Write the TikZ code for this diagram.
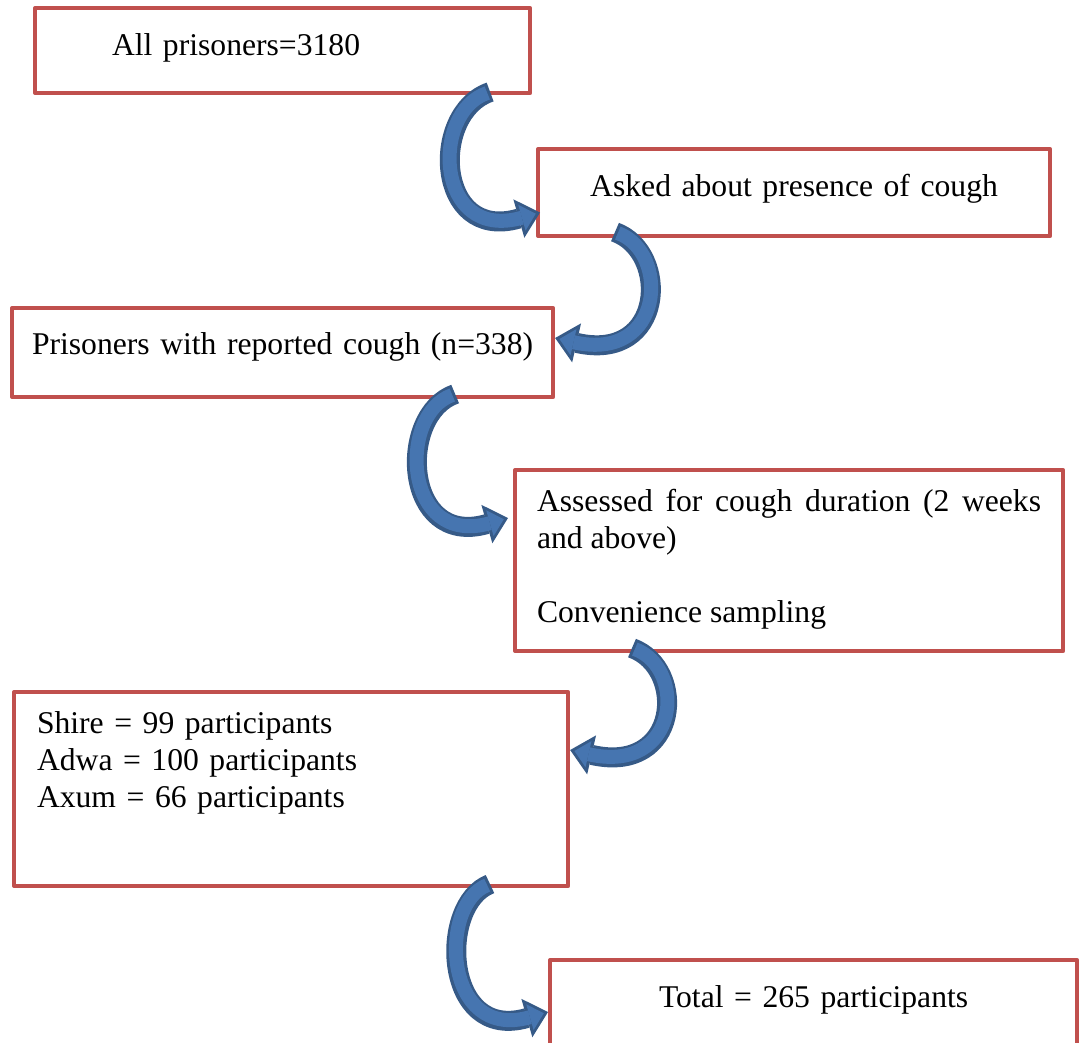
\documentclass[tikz,border=0pt]{standalone}
\usepackage{fontspec}
\setmainfont{Liberation Serif}
\usetikzlibrary{arrows.meta,calc}
\definecolor{boxred}{RGB}{192,80,77}
\definecolor{arrowblue}{RGB}{70,117,176}
\definecolor{arrowdark}{RGB}{54,90,135}
\tikzset{
	flowbox/.style={draw=boxred, line width=0.1cm, rectangle, anchor=north west, outer sep=0pt, inner ysep=0pt, align=left},
	bendarrow/.style={draw=arrowdark, line width=0.5cm, -{Triangle[length=0.55cm, width=1.0cm, line width=0pt]},
		postaction={draw=arrowblue, line width=0.35cm, shorten <=0.075cm, shorten >=0.11cm, -{Triangle[length=0.36cm, width=0.67cm, line width=0pt]}}}
}
\begin{document}
\begin{tikzpicture}[x=0.025cm, y=-0.025cm, font=\fontsize{22.5}{26.5}\selectfont, line join=round]
			\useasboundingbox (0,0) rectangle (1084,1042);
			%%%%%%%%%%%%%%%%%%%%%%%%%%%%%%%%%
			\node[flowbox, inner xsep=1.925cm, text width=8.525cm, text height=1.175cm, text depth=0.95cm] (b1) at (35,8) {All prisoners=3180};
			\node[flowbox, align=center, inner xsep=0.5cm, text width=11.8cm, text height=1.175cm, text depth=1.0cm] (b2) at (538,149) {Asked about presence of cough};
			\node[flowbox, inner xsep=0.5cm, text width=12.525cm, text height=1.15cm, text depth=1.075cm] (b3) at (12,308) {\mbox{Prisoners with reported cough (n=338)}};
			\node[flowbox, align=justify, inner xsep=0.55cm, text width=12.6cm, text height=1.025cm, text depth=3.5cm] (b4) at (515,470) {Assessed for cough duration (2 weeks\linebreak and above)\\[26.5pt]Convenience sampling};
			\node[flowbox, inner xsep=0.575cm, text width=12.7cm, text height=1.025cm, text depth=3.825cm] (b5) at (14,692) {Shire = 99 participants\\Adwa = 100 participants\\Axum = 66 participants};
			\node[flowbox, align=center, inner xsep=0.5cm, text width=12.175cm, text height=1.175cm, text depth=1.825cm] (b6) at (550,960) {Total = 265 participants};
			%%%%%%%%%%%%%%%%%%%%%%%%%%%%%%%%%
			\draw[bendarrow] ($(b1.south east)+(-40,-1)$) .. controls +(-60,20) and +(-105,30) .. ($(b2.west)+(2,20)$);
			\draw[bendarrow] ($(b2.south west)+(77,-4)$) .. controls +(55,20) and +(110,25) .. ($(b3.north east)+(2,30)$);
			\draw[bendarrow] ($(b3.south east)+(-98,-3)$) .. controls +(-58,20) and +(-105,30) .. ($(b4.north west)+(-7,48)$);
			\draw[bendarrow] ($(b4.south west)+(117,-3)$) .. controls +(55,20) and +(110,25) .. ($(b5.north east)+(2,58)$);
			\draw[bendarrow] ($(b5.south west)+(476,-2)$) .. controls +(-52,20) and +(-105,30) .. ($(b6.north west)+(-2,52)$);
			%%%%%%%%%%%%%%%%%%%%%%%%%%%%%%%%%
		\end{tikzpicture}
\end{document}
